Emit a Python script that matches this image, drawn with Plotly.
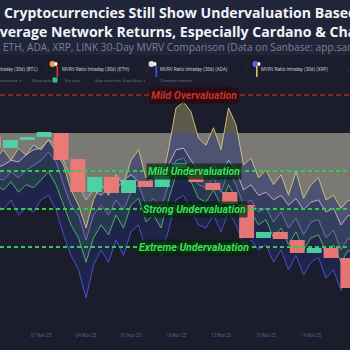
import plotly.graph_objects as go
import pandas as pd

# ---------------- data ----------------
# 30-day MVRV ratio (%) sampled every 12 hours
line_times = pd.date_range("2025-10-29 00:00", periods=49, freq="12h")
xrp = [-3.3, -2.2, -3.6, -2.0, -2.9, -1.6, -2.2, -0.9, -2.5, -4.2, -7.5, -9.5, -12.5, -8.8, -6.8, -8.2,
       -5.5, -6.8, -3.6, -2.2, -5.9, -4.9, -6.8, -2.2, 3.3, 4.1, 2.8, -0.7, -1.6, 0.7, -2.2, 3.3,
       1.1, -4.2, -3.3, -5.9, -4.9, -6.8, -5.5, -8.2, -5.1, -8.6, -6.8, -5.9, -8.8, -8.2, -9.9, -8.8, -9.5]
btc = [-4.6, -4.2, -3.6, -3.8, -2.9, -2.2, -2.0, -0.9, -1.6, -3.6, -5.9, -6.8, -8.8, -7.5, -8.2, -7.2,
       -7.5, -6.2, -5.5, -6.4, -6.8, -5.9, -6.2, -4.2, -2.2, -2.0, -3.6, -4.9, -5.1, -4.2, -5.5, -3.6,
       -4.9, -7.5, -6.8, -8.2, -7.8, -8.8, -8.2, -9.5, -8.6, -10.1, -9.1, -8.8, -10.4, -9.9, -12.1, -10.8, -11.4]
eth = [-5.9, -6.2, -5.1, -5.9, -4.9, -4.2, -3.6, -2.5, -3.8, -6.8, -9.5, -10.8, -14.1, -10.8, -9.5, -10.8,
       -8.8, -10.1, -7.8, -6.8, -9.5, -8.6, -9.9, -6.8, -3.6, -3.3, -4.9, -6.8, -7.2, -5.9, -7.8, -5.1,
       -6.8, -9.5, -8.8, -10.4, -9.9, -11.7, -10.4, -12.5, -11.2, -13.4, -11.7, -11.4, -13.8, -12.8, -15.4, -13.8, -14.7]
link = [-6.8, -7.5, -6.4, -7.8, -6.8, -7.2, -6.2, -5.1, -6.8, -9.5, -12.1, -13.8, -17.0, -13.8, -12.1, -13.4,
        -10.8, -12.5, -9.5, -8.6, -11.7, -10.8, -12.5, -8.8, -5.5, -4.9, -6.4, -8.6, -9.1, -7.5, -9.5, -6.8,
        -8.6, -11.2, -10.4, -12.1, -11.4, -13.8, -12.5, -14.7, -13.0, -15.4, -13.8, -13.4, -15.7, -14.7, -17.0, -15.4, -16.4]
ada = [-9.5, -10.1, -8.8, -10.8, -9.9, -10.4, -8.8, -8.2, -10.1, -13.4, -16.1, -18.0, -21.7, -17.4, -15.4, -17.0,
       -14.1, -16.1, -13.0, -12.1, -15.4, -14.3, -16.1, -12.8, -8.8, -8.2, -10.1, -12.1, -12.5, -10.8, -13.0, -10.4,
       -12.1, -14.7, -14.1, -15.4, -14.7, -17.0, -15.4, -18.0, -16.1, -18.7, -17.0, -16.4, -19.1, -18.0, -20.7, -18.7, -19.6]

# price candles (USD)
candle_times = pd.date_range("2025-10-28 20:00", periods=22, freq="27h")
candle_open = [111100, 109120, 110560, 111100, 111820, 107140, 101200, 103900, 101020, 103180, 102100,
               105520, 105520, 102820, 101200, 98860, 92920, 94000, 92560, 90220, 91120, 89320]
candle_close = [109120, 110560, 111100, 112000, 106960, 101200, 103900, 101020, 103360, 102100, 104080,
                106420, 103000, 101560, 99040, 92920, 94000, 92740, 90220, 91120, 89320, 83920]

levels = [5, -5, -10, -15]
level_labels = ["Mild Overvaluation", "Mild Undervaluation", "Strong Undervaluation", "Extreme Undervaluation"]

tick_dates = ["2025-10-29", "2025-11-01", "2025-11-04", "2025-11-07", "2025-11-10",
              "2025-11-13", "2025-11-16", "2025-11-19", "2025-11-22"]
tick_labels = ["29 Oct 25", "01 Nov 25", "04 Nov 25", "07 Nov 25", "10 Nov 25",
               "13 Nov 25", "16 Nov 25", "19 Nov 25", "22 Nov 25"]

title_1 = "Cryptocurrencies Still Show Undervaluation Based on"
title_2 = "Average Network Returns, Especially Cardano & Chainlink"
subtitle = "BTC, ETH, ADA, XRP, LINK 30-Day MVRV Comparison (Data on Sanbase: app.santiment.net)"
legend_names = ["MVRV Ratio Intraday (30d) (BTC)", "MVRV Ratio Intraday (30d) (ETH)",
                "MVRV Ratio Intraday (30d) (ADA)", "MVRV Ratio Intraday (30d) (XRP)"]

# ---------------- layout helpers ----------------
W, H = 350, 350
T, B = 85, 22
PH = H - T - B


def py(p):
    return (H - B - p) / PH


def px(p):
    return p / W


BG = "#1b1d2c"
fig = go.Figure()

series = [
    (ada, "#4a58d8", "rgba(42,50,135,0.34)"),
    (link, "#55b872", "rgba(70,130,95,0.22)"),
    (eth, "#7d70c8", "rgba(100,92,150,0.22)"),
    (btc, "#cfaee8", "rgba(165,145,185,0.24)"),
    (xrp, "#d6c878", "rgba(190,180,120,0.40)"),
]
for vals, lc, fc in series:
    fig.add_trace(go.Scatter(x=line_times, y=vals, mode="lines", fill="tozeroy",
                             fillcolor=fc, line=dict(color=lc, width=0.9), hoverinfo="skip"))

base = [min(o, c) for o, c in zip(candle_open, candle_close)]
height = [abs(c - o) for o, c in zip(candle_open, candle_close)]
colors = ["#4dd6a6" if c >= o else "#f07a78" for o, c in zip(candle_open, candle_close)]
fig.add_trace(go.Bar(x=candle_times, y=height, base=base, yaxis="y2", width=86400000,
                     marker=dict(color=colors, line=dict(width=0)), opacity=0.95))

shapes = [dict(type="rect", xref="paper", yref="paper", x0=0, x1=1, y0=py(55), y1=py(0),
               fillcolor="#21253a", line=dict(width=0), layer="below")]
annotations = []
for lv, lab in zip(levels, level_labels):
    red = lv > 0
    shapes.append(dict(type="line", xref="paper", yref="y", x0=0, x1=1, y0=lv, y1=lv,
                       line=dict(color="rgba(195,45,45,0.85)" if red else "#33cc4a",
                                 width=1.5 if red else 2, dash="5px,3px" if red else "4px,3px"),
                       layer="above"))
    annotations.append(dict(
        x=px(194), y=lv, xref="paper", yref="y", text=lab, showarrow=False,
        font=dict(family="Roboto", size=10.5, weight="bold", style="italic",
                  color="#c83434" if red else "#3fe25e",
                  shadow="0 0 2px #000, 0 0 5px " + ("rgba(150,20,20,0.9)" if red else "rgba(30,170,50,0.9)")),
        bgcolor="rgba(38,8,8,0.7)" if red else "rgba(8,32,12,0.7)", borderpad=1))

# title texts
annotations += [
    dict(x=px(1.5), y=py(12.5), xref="paper", yref="paper", xanchor="left", yanchor="middle",
         text="<b>" + title_1 + "</b>", showarrow=False,
         font=dict(family="Open Sans", size=14.1, color="#f2f3f7")),
    dict(x=px(-12), y=py(31.5), xref="paper", yref="paper", xanchor="left", yanchor="middle",
         text="<b>" + title_2 + "</b>", showarrow=False,
         font=dict(family="Open Sans", size=14.1, color="#f2f3f7")),
    dict(x=px(-23), y=py(47.5), xref="paper", yref="paper", xanchor="left", yanchor="middle",
         text=subtitle, showarrow=False, font=dict(family="Open Sans", size=10.2, color="#7c8193")),
]

# legend row
leg_y = py(70)
annotations.append(dict(x=px(40), y=leg_y, xref="paper", yref="paper", xanchor="right", yanchor="middle",
                        text=legend_names[0], showarrow=False, font=dict(family="Roboto", size=4.6, color="#c4c7d2")))
for name, tx in zip(legend_names[1:], [60, 158, 259]):
    annotations.append(dict(x=px(tx), y=leg_y, xref="paper", yref="paper", xanchor="left", yanchor="middle",
                            text=name, showarrow=False, font=dict(family="Roboto", size=4.6, color="#c4c7d2")))
for sx in [46, 147, 246, 348]:
    annotations.append(dict(x=px(sx), y=leg_y, xref="paper", yref="paper", xanchor="center", yanchor="middle",
                            text="⋮", showarrow=False, font=dict(family="DejaVu Sans", size=6, color="#6a7085")))
for cx, ccol, bx, bcol in [(52.5, "#f0a040", 56.5, "#e03535"), (151.5, "#d8dbe4", 155.5, "#3a56e8"),
                           (255.5, "#5068e0", 256, "#d8c060")]:
    shapes.append(dict(type="circle", xref="paper", yref="paper", x0=px(cx - 3), x1=px(cx + 3),
                       y0=py(67), y1=py(61), fillcolor=ccol, line=dict(width=0)))
    shapes.append(dict(type="circle", xref="paper", yref="paper", x0=px(cx + 2), x1=px(cx + 5),
                       y0=py(66), y1=py(62), fillcolor="#ffffff", line=dict(width=0)))
    shapes.append(dict(type="rect", xref="paper", yref="paper", x0=px(bx), x1=px(bx + 1.6),
                       y0=py(77), y1=py(66), fillcolor=bcol, line=dict(width=0)))

# toolbar row
tb_y = py(80)
for txt, tx in [("Indicators ∨", -3), ("Show axis", 30), ("Pin axis", 63),
                ("Axis max/min: Auto/Auto ∨", 93), ("Combine metrics", 158)]:
    annotations.append(dict(x=px(tx), y=tb_y, xref="paper", yref="paper", xanchor="left", yanchor="middle",
                            text=txt, showarrow=False, font=dict(family="Roboto", size=4.2, color="#666c82")))
shapes.append(dict(type="rect", xref="paper", yref="paper", x0=px(52.5), x1=px(57.5), y0=py(82.5), y1=py(77.5),
                   fillcolor="#2fbf8a", line=dict(width=0)))

fig.update_layout(
    width=W, height=H, margin=dict(l=0, r=0, t=T, b=B),
    paper_bgcolor=BG, plot_bgcolor=BG, showlegend=False, barmode="overlay",
    xaxis=dict(range=["2025-10-29 06:24", "2025-11-21 14:24"], showgrid=False, zeroline=False,
               showline=False, tickvals=tick_dates, ticktext=tick_labels, ticks="outside",
               ticklen=3, tickcolor=BG, tickfont=dict(family="Roboto", size=4.5, color="#5d6378")),
    yaxis=dict(range=[-25.66, 6.32], visible=False),
    yaxis2=dict(range=[76720, 120460], overlaying="y", visible=False),
    shapes=shapes, annotations=annotations,
)

fig.write_html("out.html")
